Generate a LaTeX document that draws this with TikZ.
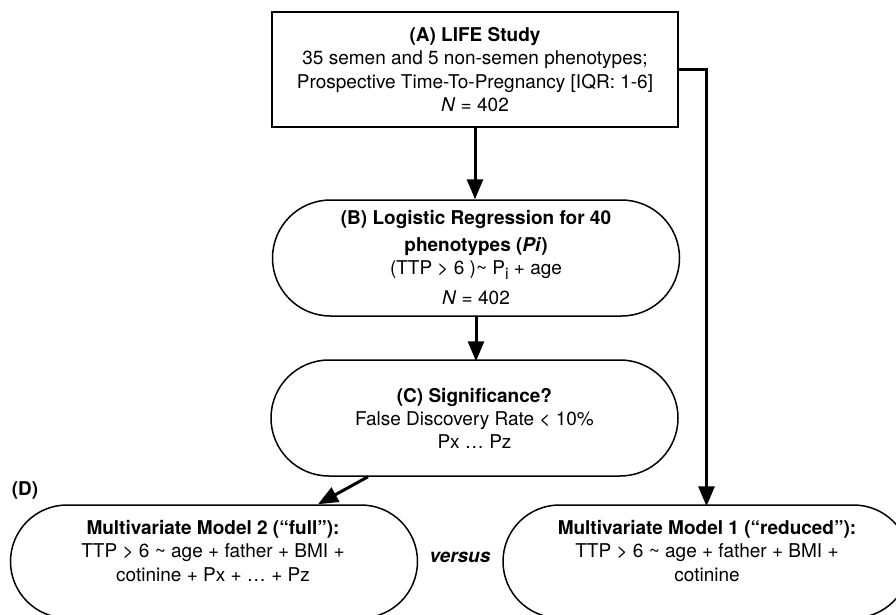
\documentclass[tikz,border=0pt]{standalone}
\usepackage{fontspec}
\setmainfont{TeX Gyre Heros}
\usetikzlibrary{arrows.meta,shapes.misc}
\tikzset{
  sqbox/.style={draw, line width=1.5pt, rectangle, inner sep=0pt, minimum width=406pt, minimum height=115pt, align=center, font=\fontsize{19}{23.5}\selectfont},
  pillbox/.style={draw, line width=1.5pt, rounded rectangle, inner sep=0pt, minimum width=407pt, minimum height=116pt, align=center, font=\fontsize{19}{23}\selectfont},
  txt/.style={inner sep=0pt, align=center, font=\fontsize{19}{23.5}\selectfont},
  conn/.style={line width=3pt, -{Triangle[length=20pt,width=16pt]}},
}
\begin{document}
\begin{tikzpicture}[x=1pt,y=-1pt]
\useasboundingbox (0,0) rectangle (896,615);
\clip (0,0) rectangle (896,615);
\node[sqbox] (A) at (475,69.5) {\textbf{(A) LIFE Study}\\35 semen and 5 non-semen phenotypes;\\Prospective Time-To-Pregnancy [IQR: 1-6]\\\textit{N} = 402};
\node[pillbox] (B) at (476,258) {\textbf{(B) Logistic Regression for 40}\\[4pt]\textbf{phenotypes (\textit{Pi})}\\(TTP > 6 )\textasciitilde{} P\raisebox{-5pt}{\fontsize{16}{16}\selectfont i} + age\\[7pt]\textit{N} = 402};
\node[pillbox] (C) at (474.5,418) {\textbf{(C) Significance?}\\False Discovery Rate < 10\%\\Px … Pz};
\node[pillbox, minimum height=113pt] (D2) at (214,561.5) {};
\node[pillbox, minimum height=113pt] (D1) at (706.5,561.5) {};
\node[txt] (D2t) at (213,551) {\textbf{Multivariate Model 2 (“full”):}\\TTP > 6 \textasciitilde{} age + father + BMI +\\cotinine + Px + … + Pz};
\node[txt] (D1t) at (707,551) {\textbf{Multivariate Model 1 (“reduced”):}\\TTP > 6 \textasciitilde{} age + father + BMI +\\cotinine};
\node[txt] (vs) at (460,557) {\textbf{\textit{versus}}};
\node[txt] (Dlab) at (25,490) {\textbf{(D)}};
\draw[conn] (A.south) -- (A.south |- B.north);
\draw[conn] (B.south) -- ([yshift=-2pt]B.south |- C.north);
\draw[conn] (A.east) -| ([yshift=-2pt]D1.north);
\draw[conn] ([xshift=-106.5pt]C.south) -- ([xshift=104pt]D2.north);
\end{tikzpicture}
\end{document}
